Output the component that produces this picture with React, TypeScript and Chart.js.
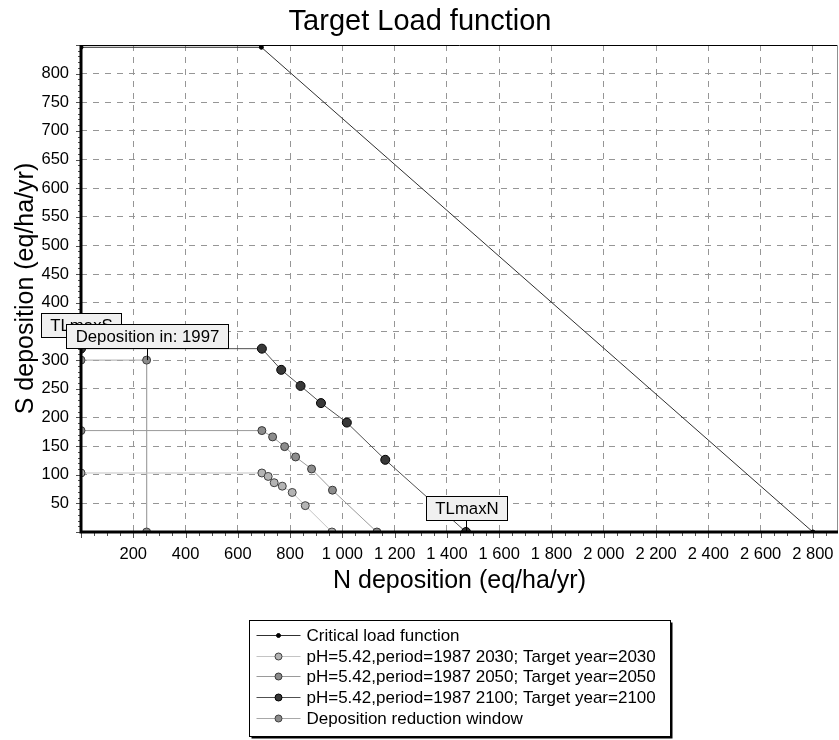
import React, { useEffect, useRef } from 'react';
import { Chart, registerables } from 'chart.js';

Chart.register(...registerables);

const FONT = "'Liberation Sans', Arial, Helvetica, sans-serif";

const chartTitle = 'Target Load function';
const xAxisTitle = 'N deposition (eq/ha/yr)';
const yAxisTitle = 'S deposition (eq/ha/yr)';

const xMin = 0;
const xMax = 2896;
const yMin = 0;
const yMax = 850;
const xTickValues = [200, 400, 600, 800, 1000, 1200, 1400, 1600, 1800, 2000, 2200, 2400, 2600, 2800];
const yTickValues = [50, 100, 150, 200, 250, 300, 350, 400, 450, 500, 550, 600, 650, 700, 750, 800];

const seriesLabels = [
  'Critical load function',
  'pH=5.42,period=1987 2030; Target year=2030',
  'pH=5.42,period=1987 2050; Target year=2050',
  'pH=5.42,period=1987 2100; Target year=2100',
  'Deposition reduction window',
];

const criticalN = [0, 690, 2800];
const criticalS = [846, 846, 0];

const target2030N = [0, 692, 716, 739, 770, 808, 858, 960];
const target2030S = [103, 103, 97, 86, 80, 69, 46, 0];

const target2050N = [0, 692, 733, 779, 821, 882, 962, 1132];
const target2050S = [177, 177, 166, 149, 131, 110, 73, 0];

const target2100N = [0, 692, 766, 840, 918, 1017, 1164, 1473];
const target2100S = [320, 320, 283, 255, 225, 191, 126, 0];

const windowN = [0, 251, 251];
const windowS = [300, 300, 0];

const annotationLabels = ['TLmaxS', 'Deposition in: 1997', 'TLmaxN'];
const annotationN = [0, 251, 1473];
const annotationS = [320, 300, 0];

const lineColors = ['#303030', '#c4c4c4', '#9a9a9a', '#505050', '#a8a8a8'];
const pointFills = ['#000000', '#b4b4b4', '#8c8c8c', '#383838', '#8c8c8c'];
const pointBorders = ['#000000', '#404040', '#383838', '#000000', '#404040'];
const pointRadii = [2, 4, 4, 4.5, 4];

const toPoints = (xs: number[], ys: number[]) => xs.map((v, i) => ({ x: v, y: ys[i] }));

const fmt = (n: number) => {
  if (n >= 1000) {
    const th = Math.floor(n / 1000);
    const rest = String(n % 1000).padStart(3, '0');
    return th + ' ' + rest;
  }
  return String(n);
};

const decorPlugin = {
  id: 'decor',
  afterDatasetsDraw(chart: any) {
    const { ctx, chartArea: a, scales } = chart;
    const x = scales.x;
    const y = scales.y;
    ctx.save();
    // minor tick marks
    ctx.strokeStyle = '#505050';
    ctx.lineWidth = 1;
    ctx.beginPath();
    for (let v = 0; v <= xMax; v += 50) {
      const px = Math.round(x.getPixelForValue(v)) + 0.5;
      const len = v % 200 === 0 ? 6 : 4;
      ctx.moveTo(px, a.bottom);
      ctx.lineTo(px, a.bottom + len);
    }
    for (let v = 0; v <= yMax; v += 10) {
      const py = Math.round(y.getPixelForValue(v)) + 0.5;
      const len = v % 50 === 0 ? 5 : 3;
      ctx.moveTo(a.left - len, py);
      ctx.lineTo(a.left, py);
    }
    ctx.stroke();

    // frame
    ctx.strokeStyle = '#000';
    ctx.lineWidth = 1;
    ctx.beginPath();
    ctx.moveTo(a.left, a.top + 0.5);
    ctx.lineTo(a.right, a.top + 0.5);
    ctx.stroke();
    ctx.strokeStyle = '#909090';
    ctx.beginPath();
    ctx.moveTo(a.right - 0.5, a.top);
    ctx.lineTo(a.right - 0.5, a.bottom);
    ctx.stroke();
    ctx.strokeStyle = '#000';
    ctx.lineWidth = 3;
    ctx.beginPath();
    ctx.moveTo(a.left, a.top);
    ctx.lineTo(a.left, a.bottom + 1.5);
    ctx.moveTo(a.left - 1.5, a.bottom);
    ctx.lineTo(a.right, a.bottom);
    ctx.stroke();

    // annotation boxes
    ctx.font = '16.8px ' + FONT;
    ctx.textAlign = 'center';
    ctx.textBaseline = 'middle';
    annotationLabels.forEach((lab, i) => {
      const px = x.getPixelForValue(annotationN[i]);
      const py = y.getPixelForValue(annotationS[i]);
      const w = Math.round(ctx.measureText(lab).width + 18);
      const h = 24;
      const bx = Math.round(px - w / 2) + 0.5;
      const by = Math.round(py - 12 - h) + 0.5;
      ctx.strokeStyle = '#000';
      ctx.lineWidth = 1;
      ctx.beginPath();
      ctx.moveTo(Math.round(px) + 0.5, by + h);
      ctx.lineTo(Math.round(px) + 0.5, py);
      ctx.stroke();
      ctx.fillStyle = '#f0f0f0';
      ctx.fillRect(bx, by, w, h);
      ctx.strokeRect(bx, by, w, h);
      ctx.fillStyle = '#000';
      ctx.fillText(lab, bx + w / 2, by + h / 2 + 1);
    });
    ctx.restore();
  },
  afterDraw(chart: any) {
    const { ctx, chartArea: a } = chart;
    ctx.save();
    // title
    ctx.font = '29px ' + FONT;
    ctx.fillStyle = '#000';
    ctx.textAlign = 'center';
    ctx.textBaseline = 'alphabetic';
    ctx.fillText(chartTitle, 420, 30);

    // axis titles
    const cx = (a.left + a.right) / 2;
    const cy = (a.top + a.bottom) / 2;
    ctx.font = '25px ' + FONT;
    ctx.fillText(xAxisTitle, cx, 588);
    ctx.save();
    ctx.translate(33, cy);
    ctx.rotate(-Math.PI / 2);
    ctx.fillText(yAxisTitle, 0, 0);
    ctx.restore();

    // legend
    const lw = 421;
    const lx = Math.round(cx - lw / 2) + 0.5;
    const ly = 620.5;
    const lh = 116;
    ctx.fillStyle = '#000';
    ctx.fillRect(lx + 2, ly + 2, lw, lh);
    ctx.fillStyle = '#fff';
    ctx.fillRect(lx, ly, lw, lh);
    ctx.strokeStyle = '#000';
    ctx.lineWidth = 1;
    ctx.strokeRect(lx, ly, lw, lh);
    ctx.font = '17px ' + FONT;
    ctx.textAlign = 'left';
    ctx.textBaseline = 'middle';
    seriesLabels.forEach((lab, i) => {
      const ry = Math.round(635 + i * 20.7) + 0.5;
      ctx.strokeStyle = lineColors[i];
      ctx.lineWidth = 1;
      ctx.beginPath();
      ctx.moveTo(lx + 7, ry);
      ctx.lineTo(lx + 51, ry);
      ctx.stroke();
      ctx.beginPath();
      ctx.arc(lx + 29, ry, i === 0 ? 2 : 3.5, 0, Math.PI * 2);
      ctx.fillStyle = pointFills[i];
      ctx.fill();
      ctx.strokeStyle = pointBorders[i];
      ctx.stroke();
      ctx.fillStyle = '#000';
      ctx.fillText(lab, lx + 57, ry + 1);
    });
    ctx.restore();
  },
};

const seriesN = [criticalN, target2030N, target2050N, target2100N, windowN];
const seriesS = [criticalS, target2030S, target2050S, target2100S, windowS];

export default function App() {
  const ref = useRef<HTMLCanvasElement | null>(null);
  useEffect(() => {
    if (!ref.current) return;
    const datasets = seriesLabels.map((lab, i) => ({
      label: lab,
      data: toPoints(seriesN[i], seriesS[i]),
      showLine: true,
      borderColor: lineColors[i],
      borderWidth: 1,
      backgroundColor: pointFills[i],
      pointBackgroundColor: pointFills[i],
      pointBorderColor: pointBorders[i],
      pointBorderWidth: 1,
      pointRadius: pointRadii[i],
      pointHoverRadius: pointRadii[i],
      tension: 0,
      clip: 0,
    }));
    const chart = new Chart(ref.current, {
      type: 'scatter',
      data: { datasets },
      plugins: [decorPlugin],
      options: {
        animation: false,
        responsive: false,
        devicePixelRatio: 1,
        layout: { autoPadding: false, padding: { top: 45, right: 1, bottom: 141, left: 0 } },
        plugins: {
          legend: { display: false },
          title: { display: false },
          tooltip: { enabled: false },
        },
        scales: {
          x: {
            type: 'linear',
            min: xMin,
            max: xMax,
            afterBuildTicks: (s: any) => {
              s.ticks = xTickValues.map((v) => ({ value: v }));
            },
            afterFit: (s: any) => {
              s.height = 67;
              s.paddingLeft = 0;
              s.paddingRight = 0;
            },
            grid: { color: '#969696', lineWidth: 1, drawTicks: false },
            border: { display: false, dash: [6, 6] },
            ticks: {
              autoSkip: false,
              maxRotation: 0,
              padding: 13,
              color: '#000',
              font: { family: FONT, size: 16.5 },
              callback: (v: any) => fmt(Number(v)),
            },
            title: { display: false },
          },
          y: {
            type: 'linear',
            min: yMin,
            max: yMax,
            afterBuildTicks: (s: any) => {
              s.ticks = yTickValues.map((v) => ({ value: v }));
            },
            afterFit: (s: any) => {
              s.width = 81;
              s.paddingTop = 0;
              s.paddingBottom = 0;
            },
            grid: { color: '#969696', lineWidth: 1, drawTicks: false },
            border: { display: false, dash: [6, 6] },
            ticks: {
              padding: 12,
              color: '#000',
              font: { family: FONT, size: 16.5 },
              callback: (v: any) => String(v),
            },
            title: { display: false },
          },
        },
      } as any,
    });
    return () => chart.destroy();
  }, []);
  return (
    <div style={{ position: 'absolute', left: 0, top: 0, width: 839, height: 740, background: '#fff' }}>
      <canvas ref={ref} width={839} height={740} />
    </div>
  );
}
